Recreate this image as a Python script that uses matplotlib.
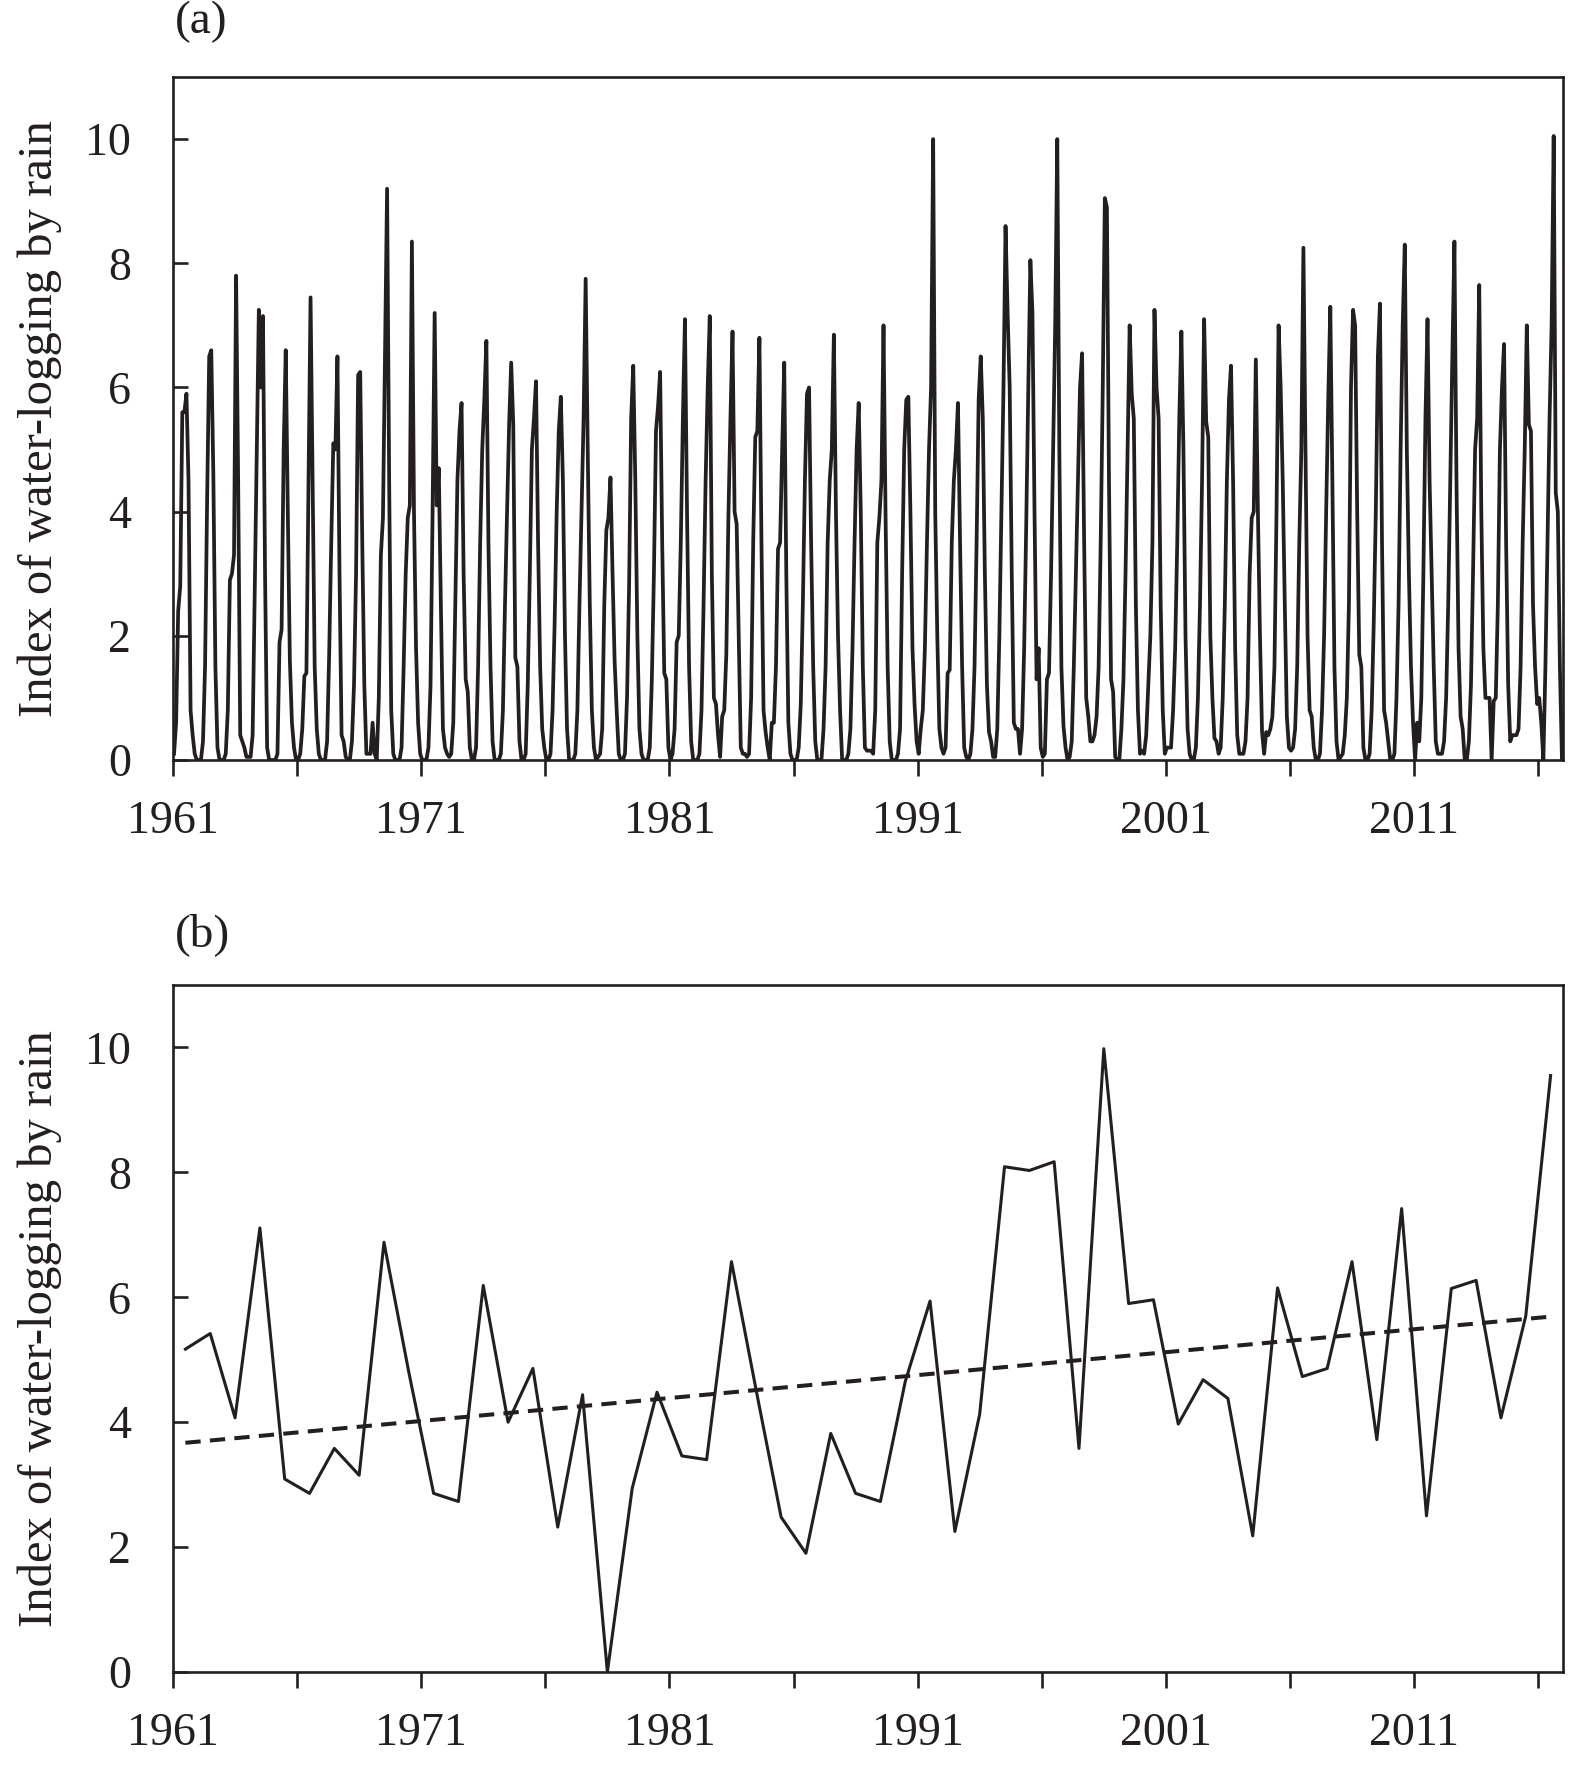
import matplotlib
matplotlib.use("Agg")
import matplotlib.pyplot as plt
import numpy as np

plt.rcParams['font.family'] = ['Liberation Serif', 'DejaVu Serif']

INK = '#231f20'

# ---- data -------------------------------------------------------------
years = list(range(1961, 2017))

# monthly index (Jan..Dec), one row per year, panel (a)
monthly_index = [
    [0.1, 0.6, 2.4, 2.8, 5.6, 5.6, 5.9, 4.5, 0.8, 0.4, 0.1, 0.0],      # 1961
    [0.0, 0.0, 0.3, 1.5, 4.2, 6.5, 6.6, 4.6, 1.5, 0.2, 0.0, 0.0],      # 1962
    [0.0, 0.1, 0.8, 2.9, 3.0, 3.3, 7.8, 4.5, 0.4, 0.3, 0.2, 0.05],     # 1963
    [0.05, 0.05, 0.4, 2.7, 5.0, 7.25, 6.0, 7.15, 3.0, 0.2, 0.0, 0.0],  # 1964
    [0.0, 0.0, 0.1, 1.9, 2.1, 5.0, 6.6, 4.0, 1.6, 0.6, 0.2, 0.0],      # 1965
    [0.0, 0.1, 0.5, 1.35, 1.4, 4.5, 7.45, 4.5, 1.5, 0.5, 0.1, 0.0],    # 1966
    [0.0, 0.0, 0.3, 1.7, 3.5, 5.1, 5.0, 6.5, 3.0, 0.4, 0.3, 0.05],     # 1967
    [0.0, 0.0, 0.3, 1.2, 3.0, 6.2, 6.25, 3.5, 1.2, 0.1, 0.1, 0.1],     # 1968
    [0.6, 0.1, 0.0, 1.0, 3.3, 3.9, 6.5, 9.2, 4.5, 0.8, 0.1, 0.0],      # 1969
    [0.0, 0.0, 0.2, 1.5, 3.0, 3.9, 4.1, 8.35, 4.0, 1.8, 0.6, 0.1],     # 1970
    [0.0, 0.0, 0.0, 0.2, 1.2, 4.0, 7.2, 4.1, 4.7, 2.5, 0.5, 0.2],      # 1971
    [0.1, 0.05, 0.1, 0.6, 2.5, 4.5, 5.3, 5.75, 3.0, 1.3, 1.1, 0.2],    # 1972
    [0.0, 0.0, 0.2, 1.5, 3.5, 5.0, 5.8, 6.75, 3.5, 1.5, 0.3, 0.0],     # 1973
    [0.0, 0.0, 0.1, 0.8, 2.5, 4.0, 5.4, 6.4, 5.4, 1.65, 1.5, 0.3],     # 1974
    [0.0, 0.0, 0.1, 1.2, 3.0, 5.0, 5.5, 6.1, 3.5, 1.5, 0.5, 0.2],      # 1975
    [0.0, 0.0, 0.1, 0.8, 2.2, 4.0, 5.3, 5.85, 4.5, 2.0, 0.5, 0.0],     # 1976
    [0.0, 0.0, 0.1, 0.8, 2.5, 4.0, 5.5, 7.75, 5.0, 2.5, 0.8, 0.2],     # 1977
    [0.0, 0.05, 0.1, 0.5, 2.5, 3.7, 3.9, 4.55, 3.0, 1.6, 0.8, 0.1],    # 1978
    [0.0, 0.0, 0.1, 1.0, 2.8, 5.5, 6.35, 4.5, 2.0, 0.5, 0.1, 0.0],     # 1979
    [0.0, 0.0, 0.2, 1.3, 3.0, 5.3, 5.7, 6.25, 3.5, 1.4, 1.3, 0.2],     # 1980
    [0.0, 0.1, 0.5, 1.9, 2.0, 3.5, 5.5, 7.1, 4.0, 1.5, 0.3, 0.0],      # 1981
    [0.0, 0.0, 0.1, 0.8, 2.5, 4.5, 6.0, 7.15, 3.0, 1.0, 0.9, 0.4],     # 1982
    [0.05, 0.7, 0.8, 1.7, 3.9, 5.5, 6.9, 4.0, 3.8, 2.0, 0.2, 0.1],     # 1983
    [0.1, 0.05, 0.1, 1.0, 3.5, 5.2, 5.3, 6.8, 3.5, 0.8, 0.45, 0.2],    # 1984
    [0.0, 0.6, 0.6, 1.5, 3.4, 3.5, 5.0, 6.4, 3.0, 0.6, 0.1, 0.0],      # 1985
    [0.0, 0.0, 0.2, 0.9, 2.5, 4.5, 5.9, 6.0, 3.5, 1.5, 0.3, 0.0],      # 1986
    [0.0, 0.0, 0.5, 1.5, 3.5, 4.5, 5.0, 6.85, 4.0, 2.0, 0.8, 0.0],     # 1987
    [0.0, 0.0, 0.1, 0.5, 1.8, 3.5, 5.0, 5.75, 4.0, 1.5, 0.2, 0.15],    # 1988
    [0.15, 0.15, 0.1, 0.8, 3.5, 3.9, 4.5, 7.0, 3.9, 1.5, 0.3, 0.0],    # 1989
    [0.0, 0.0, 0.1, 0.5, 3.0, 5.0, 5.8, 5.85, 4.0, 1.8, 0.9, 0.3],     # 1990
    [0.1, 0.5, 0.8, 1.8, 3.5, 5.0, 6.0, 10.0, 4.0, 2.0, 0.5, 0.2],     # 1991
    [0.1, 0.2, 1.4, 1.45, 3.5, 4.5, 5.0, 5.75, 3.5, 1.5, 0.2, 0.05],   # 1992
    [0.0, 0.1, 0.5, 1.5, 3.5, 5.8, 6.5, 5.5, 3.0, 1.2, 0.45, 0.3],     # 1993
    [0.05, 0.05, 0.5, 2.0, 4.0, 6.0, 8.6, 7.2, 6.0, 3.0, 0.6, 0.5],    # 1994
    [0.5, 0.1, 0.5, 1.8, 3.8, 6.0, 8.05, 7.2, 4.0, 1.3, 1.8, 0.2],     # 1995
    [0.05, 0.1, 1.3, 1.4, 3.0, 5.0, 7.0, 10.0, 5.0, 1.5, 0.55, 0.2],   # 1996
    [0.0, 0.05, 0.3, 1.5, 3.0, 4.5, 6.0, 6.55, 3.5, 1.0, 0.7, 0.3],    # 1997
    [0.3, 0.4, 0.7, 1.5, 3.5, 6.0, 9.05, 8.9, 4.5, 1.3, 1.1, 0.05],    # 1998
    [0.0, 0.0, 0.5, 1.3, 3.0, 5.0, 7.0, 5.9, 5.5, 2.5, 0.8, 0.1],      # 1999
    [0.15, 0.1, 0.4, 1.2, 2.0, 3.5, 7.25, 6.0, 5.5, 2.5, 0.8, 0.1],    # 2000
    [0.2, 0.2, 0.2, 0.8, 1.8, 3.5, 5.5, 6.9, 5.0, 2.0, 0.5, 0.1],      # 2001
    [0.0, 0.0, 0.2, 1.0, 2.5, 4.5, 7.1, 5.45, 5.2, 2.0, 1.0, 0.35],    # 2002
    [0.3, 0.1, 0.2, 1.0, 2.5, 4.5, 5.8, 6.35, 4.5, 1.8, 0.4, 0.1],     # 2003
    [0.1, 0.1, 0.3, 1.0, 3.0, 3.9, 4.0, 6.45, 4.0, 2.0, 0.45, 0.1],    # 2004
    [0.45, 0.4, 0.5, 0.7, 1.5, 4.0, 7.0, 6.0, 4.5, 2.5, 0.7, 0.2],     # 2005
    [0.15, 0.2, 0.5, 1.5, 3.5, 5.0, 8.25, 5.0, 2.0, 0.8, 0.7, 0.2],    # 2006
    [0.0, 0.0, 0.1, 0.8, 2.0, 4.0, 5.8, 7.3, 4.5, 1.5, 0.3, 0.0],      # 2007
    [0.05, 0.1, 0.4, 1.0, 2.5, 6.0, 7.25, 7.0, 4.0, 1.7, 1.5, 0.2],    # 2008
    [0.0, 0.0, 0.1, 0.8, 2.2, 4.0, 6.5, 7.35, 3.5, 0.8, 0.6, 0.3],     # 2009
    [0.0, 0.0, 0.1, 1.0, 2.5, 5.0, 7.0, 8.3, 5.0, 3.0, 1.5, 0.6],      # 2010
    [0.0, 0.6, 0.3, 1.0, 3.0, 5.5, 7.1, 4.5, 3.0, 1.5, 0.3, 0.1],      # 2011
    [0.1, 0.1, 0.3, 1.0, 2.5, 4.5, 6.5, 8.35, 4.5, 1.8, 0.7, 0.5],     # 2012
    [0.0, 0.0, 0.3, 1.2, 3.0, 5.0, 5.5, 7.65, 4.0, 1.8, 1.0, 1.0],     # 2013
    [1.0, 0.0, 0.95, 1.0, 2.5, 5.0, 6.0, 6.7, 3.5, 1.2, 0.3, 0.4],     # 2014
    [0.4, 0.4, 0.5, 1.5, 3.5, 5.0, 7.0, 5.4, 5.3, 2.5, 1.5, 0.9],      # 2015
    [1.0, 0.6, 0.0, 1.5, 3.5, 5.5, 7.0, 10.05, 4.3, 4.0, 1.5, 0.0],    # 2016
]

# annual index, panel (b)
annual_index = [
    5.17, 5.42, 4.07, 7.11, 3.09, 2.86, 3.58, 3.15, 6.88, 4.80,
    2.86, 2.73, 6.19, 4.00, 4.86, 2.32, 4.44, 0.00, 2.94, 4.48,
    3.46, 3.40, 6.57, 4.50, 2.48, 1.90, 3.82, 2.86, 2.73, 4.65,
    5.94, 2.25, 4.13, 8.09, 8.03, 8.17, 3.58, 9.98, 5.90, 5.96,
    3.97, 4.68, 4.38, 2.18, 6.15, 4.73, 4.86, 6.57, 3.72, 7.42,
    2.50, 6.14, 6.27, 4.07, 5.70, 9.55,
]

# linear trend shown in panel (b): value at first and last year
trend_ends = [3.67, 5.69]

ylabel = 'Index of water-logging by rain'
major_years = [1961, 1971, 1981, 1991, 2001, 2011]
minor_years = [1966, 1976, 1986, 1996, 2006, 2016]
y_ticks = [0, 2, 4, 6, 8, 10]

# ---- figure -----------------------------------------------------------
W, H = 1575, 1766
fig = plt.figure(figsize=(W / 100, H / 100), dpi=100)
left, right = 173 / W, 1563 / W
ax_a = fig.add_axes([left, 1 - 760 / H, right - left, 683 / H])
ax_b = fig.add_axes([left, 1 - 1672 / H, right - left, 687 / H])


def style_axis(ax):
    ax.set_xlim(1961, 2017)
    ax.set_ylim(0, 11)
    ax.set_xticks(major_years)
    ax.set_xticks(minor_years, minor=True)
    ax.set_yticks(y_ticks)
    ax.tick_params(axis='x', which='both', direction='out', length=11.5,
                   width=1.9, color=INK, labelsize=33, pad=18,
                   labelcolor=INK)
    ax.tick_params(axis='y', direction='in', length=11, width=1.9,
                   color=INK, labelsize=33, pad=30, labelcolor=INK)
    for sp in ax.spines.values():
        sp.set_linewidth(1.9)
        sp.set_color(INK)
    ax.set_ylabel(ylabel, fontsize=35, color=INK, va='center')
    ax.yaxis.set_label_coords(-0.096, 0.5)


# panel (a): monthly series
month_x = []
month_y = []
for yr, row in zip(years, monthly_index):
    for m, v in enumerate(row):
        month_x.append(yr + (m + 0.5) / 12.0)
        month_y.append(v)
ax_a.plot(month_x, month_y, color=INK, lw=2.7, solid_joinstyle='round')
style_axis(ax_a)

# panel (b): annual series and trend
year_x = np.array(years) + 0.5
ax_b.plot(year_x, annual_index, color=INK, lw=2.2)
ax_b.plot([year_x[0], year_x[-1]], trend_ends, color=INK, lw=2.9,
          dashes=(3.8, 2.3))
style_axis(ax_b)

fig.text(175 / W, 1 - 22 / H, '(a)', ha='left', va='center',
         fontsize=34, color=INK)
fig.text(175 / W, 1 - 935 / H, '(b)', ha='left', va='center',
         fontsize=34, color=INK)

fig.savefig('out.png', dpi=100)
